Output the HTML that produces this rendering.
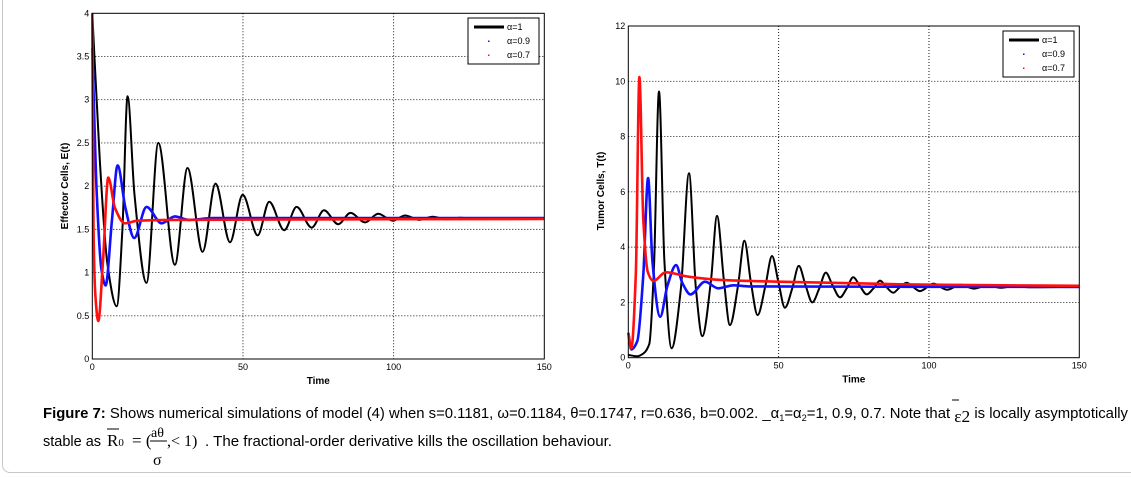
<!DOCTYPE html>
<html><head><meta charset="utf-8">
<style>
html,body{margin:0;padding:0;background:#fff;}
body{width:1131px;height:477px;overflow:hidden;position:relative;font-family:"Liberation Sans",sans-serif;}
#frame{position:absolute;left:2px;top:-10px;width:1140px;height:481px;border:1px solid #c8c8c8;border-radius:8px;}
svg{position:absolute;left:0;top:0;}
.tick{font-size:9px;fill:#000;}
.axl{font-size:10px;font-weight:bold;fill:#000;}
.cap{font-size:14.5px;fill:#000;}
</style></head><body>
<div id="frame"></div>
<svg id="svg" width="1131" height="477">
<g id="left"></g>
<g id="right"></g>
<g>
<text class="cap" x="43" y="418" textLength="1085" lengthAdjust="spacingAndGlyphs"><tspan font-weight="bold">Figure 7:</tspan> Shows numerical simulations of model (4) when s=0.1181, ω=0.1184, θ=0.1747, r=0.636, b=0.002. _α<tspan font-size="9" dy="3">1</tspan><tspan dy="-3">=α</tspan><tspan font-size="9" dy="3">2</tspan><tspan dy="-3">=1, 0.9, 0.7. Note that </tspan><tspan font-family="Liberation Serif" font-size="17" dy="4">ε2</tspan><tspan dy="-4"> is locally asymptotically</tspan></text>
<line x1="952" y1="400" x2="959" y2="400" stroke="#000" stroke-width="1"/>
<text class="cap" x="43" y="446">stable as</text>
<text x="107" y="446" font-family="Liberation Serif" font-size="17">R<tspan font-size="11">0</tspan></text>
<line x1="107" y1="429" x2="119" y2="429" stroke="#000" stroke-width="1"/>
<text x="132" y="446" font-family="Liberation Serif" font-size="17">= (</text>
<text x="151" y="437" font-family="Liberation Serif" font-size="14">aθ</text>
<line x1="150" y1="441" x2="167" y2="441" stroke="#000" stroke-width="1"/>
<text x="153" y="465" font-family="Liberation Serif" font-size="16">σ</text>
<text x="167" y="446" font-family="Liberation Serif" font-size="16">,&lt; 1)</text>
<text class="cap" x="205" y="446" textLength="407" lengthAdjust="spacingAndGlyphs">. The fractional-order derivative kills the oscillation behaviour.</text>
</g>
</svg>
<script>
// Left chart data (E(t))
const leftBlackT=[0,2.5,5,8.1,10,11.7,14,18,21.9,27.4,31.6,36.6,40.9,45.7,49.9,54.9,58.7,63.7,67.8,72.8,76.9,81.6,85.7,90.5,94.9,99.7,103.8,108.5,113,117.5,122,126.5,131,150];
const leftBlackV=[4,2.3,1.1,0.61,1.5,3.04,1.9,0.88,2.5,1.09,2.21,1.24,2.03,1.35,1.90,1.43,1.82,1.49,1.76,1.52,1.72,1.56,1.69,1.58,1.68,1.60,1.66,1.61,1.645,1.615,1.635,1.62,1.625,1.62];
const leftBlueT=[0,1.5,3,4.4,6.5,8.4,11,13.9,18,23,27.4,32,40,150];
const leftBlueV=[3.6,1.9,1.05,0.85,1.6,2.24,1.75,1.4,1.76,1.57,1.65,1.61,1.63,1.63];
const leftRedT=[0,0.4,1,2,3.5,5.3,7.5,10.8,15,25,150];
const leftRedV=[4,1.5,0.75,0.44,1.1,2.1,1.75,1.57,1.6,1.61,1.62];
const leftYTicks=[0,0.5,1,1.5,2,2.5,3,3.5,4];
const xTicks=[0,50,100,150];
// Right chart data (T(t))
const rightBlackT=[0,3,5,7,8.5,10.2,12,14.4,17.5,20.2,22.5,24.6,27.5,29.5,31.8,33.8,36.5,38.6,40.8,43,45.6,47.8,50,52.1,54.5,56.7,59,61.2,63.5,65.7,68,70.4,72.6,74.8,77,79.3,81.5,83.7,85.9,88.1,90.3,92.6,94.8,97,101.5,106,110.5,115,119.5,124,128.5,133,150];
const rightBlackV=[0.1,0.05,0.15,0.5,3.2,9.63,3.5,0.34,2.5,6.67,2.5,0.78,2.8,5.13,2.8,1.18,2.6,4.23,2.7,1.54,2.6,3.68,2.7,1.81,2.5,3.32,2.6,2.0,2.5,3.08,2.6,2.18,2.5,2.91,2.6,2.29,2.5,2.79,2.55,2.35,2.55,2.71,2.55,2.41,2.68,2.46,2.64,2.5,2.62,2.53,2.6,2.55,2.57];
const rightBlueT=[0,1,3,5,6.6,8,10.6,13,15.9,18,20.7,25.5,29.9,35,40,150];
const rightBlueV=[0.9,0.3,0.6,3,6.5,3.5,1.48,2.6,3.35,2.7,2.29,2.75,2.51,2.62,2.58,2.56];
const rightRedT=[0,1,2.5,3.7,5,6.5,8.3,12.5,20,30,50,80,100,150];
const rightRedV=[0.9,0.35,3,10.15,5,3.1,2.78,3.09,2.93,2.82,2.75,2.68,2.64,2.6];
const rightYTicks=[0,2,4,6,8,10,12];
const legendLabels=["α=1","α=0.9","α=0.7"];

const NS="http://www.w3.org/2000/svg";
function mk(tag,attrs,parent){const e=document.createElementNS(NS,tag);for(const k in attrs)e.setAttribute(k,attrs[k]);parent.appendChild(e);return e;}
// monotone cubic (Fritsch-Carlson) path through points – no overshoot
function curve(pts){
 const n=pts.length,dx=[],sl=[],m=[];
 for(let i=0;i<n-1;i++){dx[i]=pts[i+1][0]-pts[i][0];sl[i]=(pts[i+1][1]-pts[i][1])/dx[i];}
 m[0]=sl[0];m[n-1]=sl[n-2];
 for(let i=1;i<n-1;i++){if(sl[i-1]*sl[i]<=0)m[i]=0;else{const w1=2*dx[i]+dx[i-1],w2=dx[i]+2*dx[i-1];m[i]=(w1+w2)/(w1/sl[i-1]+w2/sl[i]);}}
 let d="M"+pts[0][0].toFixed(1)+","+pts[0][1].toFixed(1);
 for(let i=0;i<n-1;i++){const h=dx[i]/3;
  d+=" C"+(pts[i][0]+h).toFixed(1)+","+(pts[i][1]+m[i]*h).toFixed(1)+" "+(pts[i+1][0]-h).toFixed(1)+","+(pts[i+1][1]-m[i+1]*h).toFixed(1)+" "+pts[i+1][0].toFixed(1)+","+pts[i+1][1].toFixed(1);}
 return d;}
function chart(g,cfg){
 const X=t=>cfg.x0+(t-0)/150*(cfg.x1-cfg.x0);
 const Y=v=>cfg.y0-(v/cfg.ymax)*(cfg.y0-cfg.y1);
 mk("rect",{x:cfg.x0,y:cfg.y1,width:cfg.x1-cfg.x0,height:cfg.y0-cfg.y1,fill:"#fff"},g);
 cfg.yt.forEach(v=>{
  if(v>0&&v<cfg.ymax){const l=mk("line",{x1:cfg.x0,x2:cfg.x1,y1:Y(v),y2:Y(v),stroke:"#000","stroke-width":0.9,"stroke-dasharray":"1,2"},g);
  
  }
  const t=mk("text",{x:cfg.x0-3,y:Y(v)+3,"text-anchor":"end",class:"tick"},g);t.textContent=v;
  
  
 });
 xTicks.forEach(v=>{
  if(v>0&&v<150){const l=mk("line",{x1:X(v),x2:X(v),y1:cfg.y1,y2:cfg.y0,stroke:"#000","stroke-width":0.9,"stroke-dasharray":"1,2"},g);
  
  }
  const t=mk("text",{x:X(v),y:cfg.y0+11,"text-anchor":"middle",class:"tick"},g);t.textContent=v;
  
  
 });
 const series=[[cfg.bT,cfg.bV,"#000",2,"series-alpha-1"],[cfg.uT,cfg.uV,"#1010ff",2.6,"series-alpha-0.9"],[cfg.rT,cfg.rV,"#ff1010",2.6,"series-alpha-0.7"]];
 series.forEach(s=>{
  const pts=s[0].map((t,i)=>[X(t),Y(s[1][i])]);
  const p=mk("path",{d:curve(pts),fill:"none",stroke:s[2],"stroke-width":s[3],"stroke-linejoin":"round"},g);
  
  
 });
 mk("rect",{x:cfg.x0,y:cfg.y1,width:cfg.x1-cfg.x0,height:cfg.y0-cfg.y1,fill:"none",stroke:"#000","stroke-width":1},g);
 const xl=mk("text",{x:(cfg.x0+cfg.x1)/2,y:cfg.y0+25,"text-anchor":"middle",class:"axl"},g);xl.textContent="Time";
 
 
 const yl=mk("text",{x:0,y:0,"text-anchor":"middle",class:"axl",transform:"translate("+cfg.ylx+","+cfg.yly+") rotate(-90)"},g);yl.textContent=cfg.ylab;
 
 
 const lg=mk("g",{},g);
 
 
 mk("rect",{x:cfg.lx,y:cfg.ly,width:71,height:46,fill:"#fff",stroke:"#000","stroke-width":1},lg);
 legendLabels.forEach((lab,i)=>{
  const yy=cfg.ly+9+i*14;
  if(i===0)mk("rect",{x:cfg.lx+6,y:yy-1.5,width:30,height:3,fill:"#000"},lg);
  else mk("rect",{x:cfg.lx+20,y:yy-0.5,width:1.5,height:1.5,fill:i===1?"#1010ff":"#ff1010"},lg);
  const t=mk("text",{x:cfg.lx+39,y:yy+3,class:"tick"},lg);t.textContent=lab;
  
  
 });
}
chart(document.getElementById("left"),{x0:92.3,x1:544.3,y0:359,y1:13.3,ymax:4,yt:leftYTicks,
 bT:leftBlackT,bV:leftBlackV,uT:leftBlueT,uV:leftBlueV,rT:leftRedT,rV:leftRedV,
 ylab:"Effector Cells, E(t)",ylx:68,yly:186,lx:468,ly:18});
chart(document.getElementById("right"),{x0:628.3,x1:1079.3,y0:357.7,y1:26,ymax:12,yt:rightYTicks,
 bT:rightBlackT,bV:rightBlackV,uT:rightBlueT,uV:rightBlueV,rT:rightRedT,rV:rightRedV,
 ylab:"Tumor Cells, T(t)",ylx:604,yly:191,lx:1003,ly:31});
</script>
</body></html>
